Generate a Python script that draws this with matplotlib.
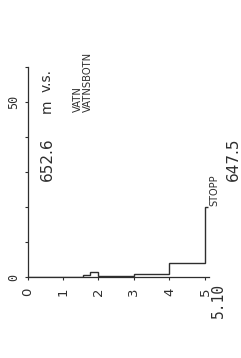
import matplotlib
matplotlib.use("Agg")
import matplotlib.pyplot as plt

# ---- data ----
depth_edges = [0.0, 1.55, 1.75, 2.0, 3.0, 4.0, 5.0, 5.08]
resistance = [0.0, 0.5, 1.5, 0.3, 0.8, 4.0, 20.0]
x_ticks = [0, 1, 2, 3, 4, 5]
x_tick_labels = ["0", "1", "2", "3", "4", "5"]
y_ticks = [0, 10, 20, 30, 40, 50, 60]
y_tick_labels = ["0", "", "", "", "", "50", ""]
total_depth_label = "5.10"
surface_level = "652.6"
surface_unit = ["m", "v.s."]
bottom_label = "647.5"
water_label = "VATN\nVATNSBOTN"
stop_label = "STOPP"

INK = "#2e2e2e"
W, H = 241, 358

fig = plt.figure(figsize=(W / 100, H / 100), dpi=100)
fig.patch.set_facecolor("white")
ax = fig.add_axes([27.5 / W, (H - 277) / H, 181 / W, 210 / H])
ax.set_xlim(0, 5.1)
ax.set_ylim(0, 60)
ax.set_facecolor("white")

ax.stairs(resistance, depth_edges, baseline=None, color=INK, linewidth=1.0)

for s in ["top", "right"]:
    ax.spines[s].set_visible(False)
for s in ["left", "bottom"]:
    ax.spines[s].set_color(INK)
    ax.spines[s].set_linewidth(0.9)

ax.set_xticks(x_ticks, x_tick_labels)
ax.set_yticks(y_ticks, y_tick_labels)
ax.tick_params(axis="x", direction="out", length=2.5, width=0.8, color=INK,
               labelsize=9.5, labelcolor=INK, labelrotation=90, pad=5)
ax.tick_params(axis="y", direction="out", length=2, width=0.8, color=INK,
               labelsize=8.5, labelcolor=INK, labelrotation=90, pad=3)
for lbl in ax.get_yticklabels():
    lbl.set_family("DejaVu Sans Mono")
    lbl.set_va("center")

def ftext(x, y, s, **kw):
    fig.text(x / W, 1 - y / H, s, color=INK, rotation=90, **kw)

ftext(218, 318, total_depth_label, fontsize=10.5, ha="center", va="bottom",
      family="DejaVu Sans Mono")
ftext(47, 181, surface_level, fontsize=11, ha="center", va="bottom")
ftext(47, 113, surface_unit[0], fontsize=10, ha="center", va="bottom")
ftext(47, 92, surface_unit[1], fontsize=10, ha="center", va="bottom")
ftext(233, 181, bottom_label, fontsize=11, ha="center", va="bottom")
ftext(83, 112, water_label, fontsize=7.2, ha="center", va="bottom",
      multialignment="left", linespacing=1.0)
ftext(214, 206, stop_label, fontsize=7, ha="center", va="bottom")

fig.savefig("out.png", dpi=100, facecolor="white")
